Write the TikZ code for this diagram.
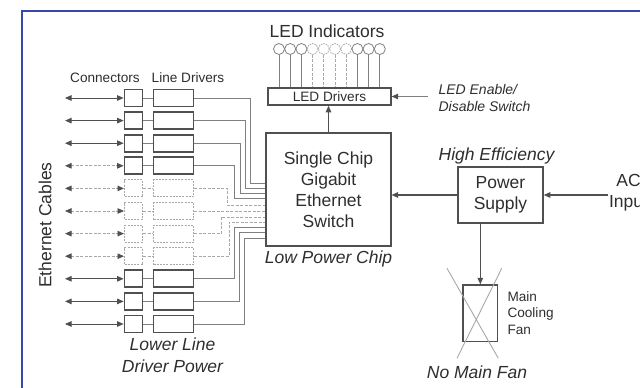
\documentclass[tikz,border=0pt]{standalone}
\usepackage{fontspec}
\setmainfont{Liberation Sans}
\usetikzlibrary{positioning,arrows.meta,calc}
\definecolor{ink}{HTML}{2E2E2E}
\definecolor{edge}{HTML}{505050}
\definecolor{wiregray}{HTML}{808080}
\definecolor{ghost}{HTML}{A8A8A8}
\definecolor{frameblue}{HTML}{3848A8}

\begin{document}
\begin{tikzpicture}[x=1pt, y=-1pt,
    >={Triangle[length=6.5pt,width=5.5pt,color=edge]},
    every node/.style={text=ink},
    big/.style={font=\fontsize{17.5}{21}\selectfont},
    mid/.style={font=\fontsize{14}{17}\selectfont\itshape},
    sml/.style={font=\fontsize{13.6}{16.5}\selectfont},
    blk/.style={draw=edge, line width=1.5pt, inner sep=0pt, align=center},
    conbox/.style={blk, minimum width=18pt, minimum height=17pt},
    drvbox/.style={blk, minimum width=40pt, minimum height=17pt},
    box-live/.style={draw=edge, line width=1.7pt},
    box-spare/.style={draw=ghost, line width=1pt, dash pattern=on 2pt off 1.2pt},
    wire-live/.style={draw=wiregray, line width=1pt},
    wire-spare/.style={draw=ghost, line width=1pt, dash pattern=on 3pt off 1.5pt},
    cable-live/.style={draw=edge, line width=0.9pt},
    cable-spare/.style={draw=ghost, line width=0.9pt, dash pattern=on 3pt off 1.5pt},
    ledring/.style={circle, minimum size=11pt, inner sep=0pt, line width=0.8pt},
    led-live/.style={draw=wiregray},
    led-spare/.style={draw=ghost, dash pattern=on 1.5pt off 1pt},
    flow/.style={->, draw=edge, line width=1.2pt}]
  \useasboundingbox (0,0) rectangle (640,388);
  \draw[frameblue, line width=1.3pt] (22,396) -- (22,11) -- (650,11);

  % switch chip and LED block
  \node[blk, big, minimum width=124.6pt, minimum height=113pt] (chip) at (328.5,189.5) {Single Chip\\Gigabit\\Ethernet\\Switch};
  \node[big, font=\fontsize{17.5}{21}\selectfont\itshape, below=1pt of chip] (lowchip) {Low Power Chip};
  \node[blk, sml, minimum width=122.7pt, minimum height=17pt] (leddrv) at (329.5,96.5) {LED Drivers};
  \node[big] (ledlbl) at (327,31) {LED Indicators};
  \foreach \k/\lsty in {1/live,2/live,3/live,4/spare,5/spare,6/spare,7/spare,8/live,9/live,10/live}{
    \node[ledring, led-\lsty] (led\k) at ({279+11.2*(\k-1)},49) {};
    \draw[wire-\lsty] (led\k.south) -- (led\k.south |- leddrv.north);
  }
  \draw[flow] (chip.north) -- (chip.north |- leddrv.south);
  \coordinate (ledsw) at (428,96.5);
  \draw[flow, line width=0.9pt, draw=wiregray] (ledsw) -- (leddrv.east);
  \node[mid, align=left, anchor=west] (swlbl) at (435,97.5) {LED Enable/\\Disable Switch};

  % power
  \node[blk, big, minimum width=85pt, minimum height=56pt] (psu) at (500.5,195) {Power\\Supply};
  \node[big, font=\fontsize{17.5}{21}\selectfont\itshape] (higheff) at (496.5,156) {High Efficiency};
  \draw[flow] (psu.west) -- (psu.west -| chip.east);
  \coordinate (acin) at (608,195);
  \draw[flow] (acin) -- (psu.east);
  \node[big, align=center] (aclbl) at (628.5,192.5) {AC\\Input};
  \node[blk, line width=1.2pt, minimum width=34.7pt, minimum height=56.7pt] (fan) at (480.3,313.3) {};
  \draw[flow] (fan.north |- psu.south) -- (fan.north);
  \draw[ghost, line width=0.9pt] ($(fan.center)+(-33.3,-45)$) -- ($(fan.center)+(18,45)$);
  \draw[ghost, line width=0.9pt] ($(fan.center)+(21.4,-45)$) -- ($(fan.center)+(-23.3,45)$);
  \node[sml, align=left, anchor=west] (fanlbl) at (504,313) {Main\\Cooling\\Fan};
  \node[big, font=\fontsize{17.5}{21}\selectfont\itshape] (nofan) at (477,372) {No Main Fan};

  % ports
  \node[sml] (conlbl) at (105,78) {Connectors};
  \node[sml] (drvlbl) at (188,78) {Line Drivers};
  \node[big, rotate=90] (ethlbl) at (45,225) {Ethernet Cables};
  \foreach \i/\xv/\yin/\bsty/\csty in {1/250/183/live/live, 2/245/188.5/live/live, 3/240/193.5/live/live,
      4/234/198.5/live/spare, 5/227/205/spare/spare, 6/230/211/spare/spare, 7/221/217/spare/spare,
      8/229/222/spare/spare, 9/234/227/live/live, 10/239/232.5/live/live, 11/244/238/live/live}{
    \pgfmathsetmacro{\yr}{98+22.6*(\i-1)}
    \node[conbox, box-\bsty] (con\i) at (133.5,\yr) {};
    \node[drvbox, box-\bsty] (drv\i) at (173.5,\yr) {};
    \coordinate (cab\i) at (65,\yr);
    \draw[<->, cable-\csty] (cab\i) -- (con\i.west);
    \draw[wire-\bsty] (con\i.east) -- (drv\i.west);
    \draw[wire-\bsty] (drv\i.east) -| (\xv,\yin) -- (chip.west |- 0,\yin);
  }
  \node[big, font=\fontsize{17.5}{21.5}\selectfont\itshape, align=center] (lowdrv) at (172.5,355) {Lower Line\\Driver Power};
\end{tikzpicture}
\end{document}
